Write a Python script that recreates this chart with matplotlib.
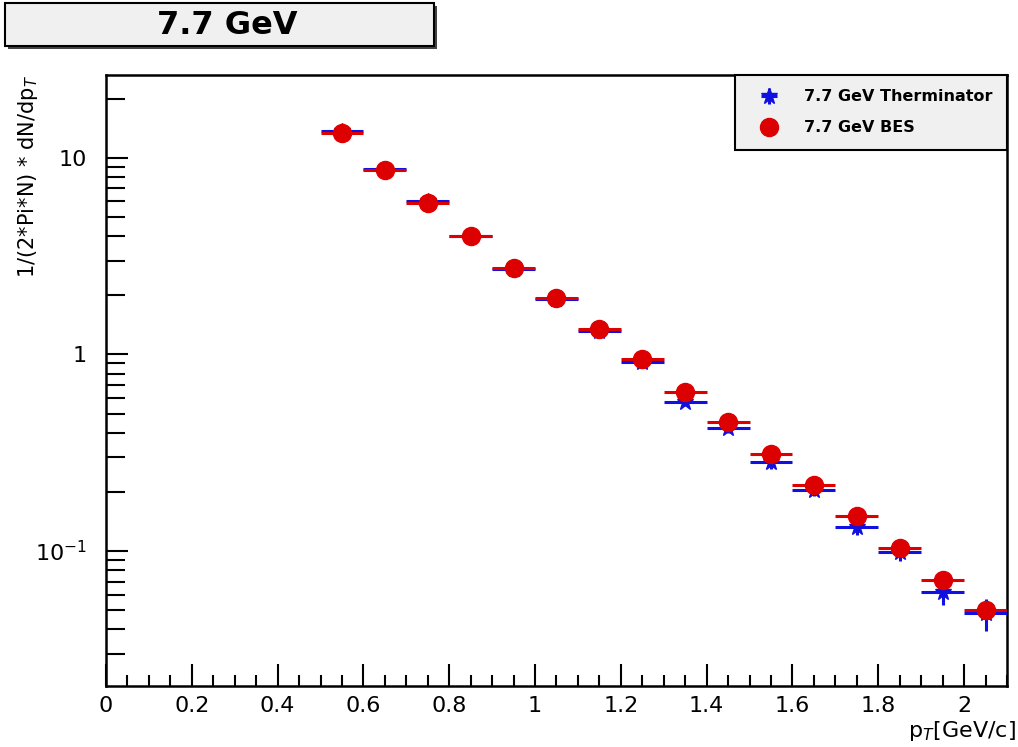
import numpy as np
import matplotlib
matplotlib.use('Agg')
import matplotlib.pyplot as plt
from matplotlib.ticker import MultipleLocator, LogLocator, NullFormatter, FixedLocator, FixedFormatter
from matplotlib.patches import Rectangle

# pT bin centres and half widths [GeV/c]
pt = [0.55, 0.65, 0.75, 0.85, 0.95, 1.05, 1.15, 1.25,
      1.35, 1.45, 1.55, 1.65, 1.75, 1.85, 1.95, 2.05]
bin_half = [0.05] * 16

# 7.7 GeV BES data
bes = [13.4, 8.69, 5.91, 4.01, 2.75, 1.94, 1.35, 0.945,
       0.648, 0.456, 0.313, 0.218, 0.150, 0.1035, 0.0712, 0.0501]

# 7.7 GeV Therminator
therm = [13.7, 8.75, 6.0, 4.0, 2.72, 1.91, 1.32, 0.92,
         0.576, 0.425, 0.283, 0.205, 0.133, 0.0992, 0.0621, 0.0482]
therm_err = [0.35, 0.22, 0.16, 0.11, 0.08, 0.06, 0.05, 0.04,
             0.03, 0.025, 0.02, 0.015, 0.012, 0.010, 0.009, 0.009]

fig = plt.figure(figsize=(10.18, 7.47), dpi=100)
ax = fig.add_axes([0.1041, 0.0817, 0.8851, 0.8179])

ax.errorbar(pt, therm, xerr=bin_half, yerr=therm_err, fmt='*', color='#1010e0',
            markersize=12, elinewidth=2.2, capsize=0, label='7.7 GeV Therminator', zorder=3)
ax.errorbar(pt, bes, xerr=bin_half, fmt='o', color='#dd0000',
            markersize=13, elinewidth=2.2, capsize=0, label='7.7 GeV BES', zorder=4)

ax.set_yscale('log')
ax.set_xlim(0, 2.1)
ax.set_ylim(0.0206, 26.4)

# ROOT-like ticks
ax.xaxis.set_major_locator(MultipleLocator(0.2))
ax.xaxis.set_minor_locator(MultipleLocator(0.05))
ax.xaxis.set_major_formatter(plt.FuncFormatter(lambda v, p: ('%g' % round(v, 2))))
ax.yaxis.set_major_locator(FixedLocator([0.1, 1, 10]))
ax.yaxis.set_major_formatter(FixedFormatter(['$10^{-1}$', '1', '10']))
ax.yaxis.set_minor_locator(LogLocator(base=10, subs=np.arange(2, 10)))
ax.yaxis.set_minor_formatter(NullFormatter())
ax.tick_params(which='both', direction='in', top=False, right=False, width=1.5, labelsize=16)
ax.tick_params(axis='x', which='major', length=16, pad=7)
ax.tick_params(axis='x', which='minor', length=8)
ax.tick_params(axis='y', which='major', length=16, pad=14)
ax.tick_params(axis='y', which='minor', length=14)
for s in ax.spines.values():
    s.set_linewidth(1.8)

ax.set_ylabel('1/(2*Pi*N) * dN/dp$_T$', fontsize=15, loc='top')
ax.yaxis.set_label_coords(-0.073, 1.0)
fig.text(0.998, 0.013, 'p$_T$[GeV/c]', fontsize=16, ha='right', va='baseline')

# legend box
leg = ax.legend(loc='upper right', prop={'weight': 'bold', 'size': 11.5},
                frameon=True, fancybox=False, borderpad=0.9, labelspacing=1.0,
                handlelength=2.4, handletextpad=1.0, borderaxespad=0)
leg.get_frame().set_facecolor('#f0f0f0')
leg.get_frame().set_edgecolor('black')
leg.get_frame().set_linewidth(1.5)
leg.get_frame().set_alpha(1)

# title box
fig.patches.append(Rectangle((8 / 1018, 1 - 49 / 747), 429 / 1018, 43 / 747,
                             transform=fig.transFigure, facecolor='#444444', edgecolor='none'))
fig.patches.append(Rectangle((5 / 1018, 1 - 46 / 747), 429 / 1018, 43 / 747,
                             transform=fig.transFigure, facecolor='#f0f0f0', edgecolor='black', lw=1.5))
fig.text(227 / 1018, 1 - 25 / 747, '7.7 GeV', fontsize=23, fontweight='bold', ha='center', va='center')

fig.savefig('out.png', dpi=100)
